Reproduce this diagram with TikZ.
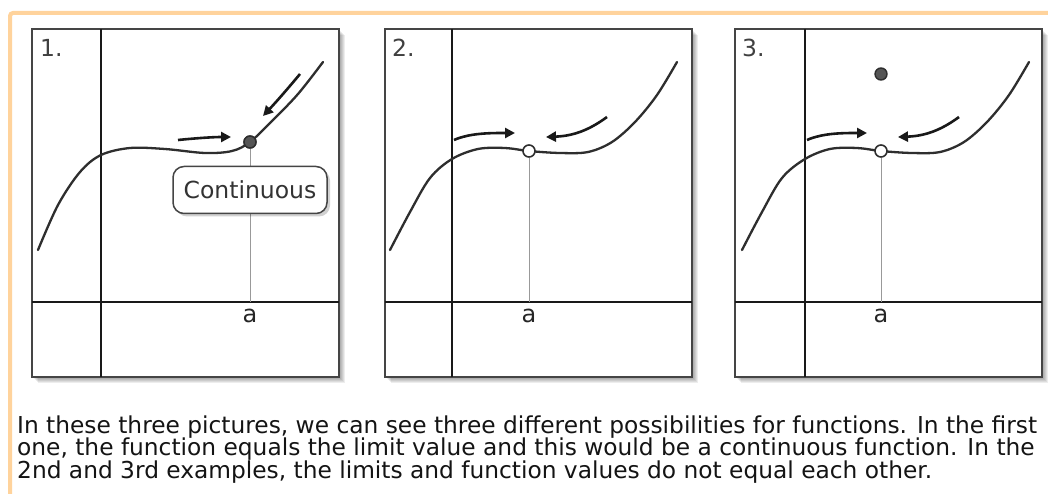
\documentclass[tikz,border=0pt]{standalone}
\usepackage{fontspec}
\setmainfont{DejaVu Sans}
\usetikzlibrary{arrows.meta}
\definecolor{frameorange}{HTML}{FFD39C}
\definecolor{ink}{HTML}{2E2E2E}
\definecolor{borderc}{HTML}{454545}
\definecolor{dotc}{HTML}{555555}
\newcommand\panelshadow[4]{%
  \foreach \d in {1,2,...,6}{%
    \fill[black,opacity=0.07] ({#1+\d},{#2+\d}) rectangle ({#3+\d},{#4+\d});}}
\tikzset{
  panelbox/.style={draw=borderc, line width=1.8pt, fill=white},
  axisline/.style={draw=black!90, line width=2.6pt},
  curveline/.style={draw=ink, line width=2.3pt, line cap=round},
  guide/.style={draw=black!40, line width=0.9pt},
  arr/.style={draw=black!90, line width=2.6pt, -{Triangle[length=10pt,width=10pt]}},
  filledpt/.style={circle, draw=ink, line width=1.4pt, fill=dotc, minimum size=12pt, inner sep=0pt},
  openpt/.style={circle, draw=ink, line width=1.6pt, fill=white, minimum size=12pt, inner sep=0pt},
  numlbl/.style={text=black!75, font=\fontsize{23.5}{24}\selectfont, anchor=west, inner sep=0pt},
  alabel/.style={text=black!85, font=\fontsize{24}{24}\selectfont, inner sep=0pt},
  bodytext/.style={text=black!92, font=\fontsize{23.3}{26}\selectfont, anchor=base west, inner sep=0pt},
}
\begin{document}
\begin{tikzpicture}[x=1pt,y=-1pt]
\useasboundingbox (0,0) rectangle (1048,494);
\fill[white] (0,0) rectangle (1048,494);
% orange frame
\draw[frameorange, line width=4pt, rounded corners=3pt] (10,494) -- (10,13) -- (1050,13);

% ---------- Panel 1 ----------
\panelshadow{32}{29}{339}{377}
\draw[panelbox] (32,29) rectangle (339,377);
\begin{scope}
\clip (32,29) rectangle (339,377);
\draw[axisline] (101,29) -- (101,377);
\draw[axisline] (32,302) -- (339,302);
\end{scope}
\node[numlbl] (n1) at (40,48) {1.};
\node[filledpt] (p1) at (250,142) {};
\coordinate (b1) at (250,302);
\draw[guide] (p1) -- (b1);
\draw[curveline] plot[smooth, tension=0.55] coordinates {(38,250) (58,205) (80,172) (101,155) (130,148) (165,149) (205,153) (232,151) (250,142) (272,121) (298,94) (323,62)};
\node[filledpt] at (250,142) {};
\node[alabel] (a1) at (250,316) {a};
\node[draw=borderc, line width=1.5pt, rounded corners=11pt, fill=black, fill opacity=0.18, draw opacity=0, minimum width=154pt, minimum height=47pt] at (253,193) {};
\node[draw=borderc, line width=1.5pt, rounded corners=11pt, fill=white, minimum width=154pt, minimum height=47pt, text=black!80, font=\fontsize{23.5}{24}\selectfont, inner sep=0pt] (cont) at (250,190) {Continuous};
\draw[arr] (178,140) .. controls (198,138) and (214,137) .. (231,137);
\draw[arr] (300,74) .. controls (290,86) and (278,100) .. (263,116);

% ---------- Panel 2 ----------
\panelshadow{385}{29}{692}{377}
\draw[panelbox] (385,29) rectangle (692,377);
\begin{scope}
\clip (385,29) rectangle (692,377);
\draw[axisline] (452,29) -- (452,377);
\draw[axisline] (385,302) -- (692,302);
\end{scope}
\node[numlbl] (n2) at (392,48) {2.};
\coordinate (b2) at (529,302);
\draw[curveline] plot[smooth, tension=0.55] coordinates {(390,250) (410,212) (430,178) (452,159) (478,149) (505,148) (529,151) (560,153) (588,152) (612,142) (635,122) (657,95) (677,62)};
\node[openpt] (p2) at (529,151) {};
\draw[guide] (p2) -- (b2);
\node[alabel] (a2) at (529,316) {a};
\draw[arr] (454,140) .. controls (470,133) and (490,133) .. (515,133);
\draw[arr] (607,117) .. controls (588,131) and (572,136) .. (546,137);

% ---------- Panel 3 ----------
\panelshadow{735}{29}{1042}{377}
\draw[panelbox] (735,29) rectangle (1042,377);
\begin{scope}
\clip (735,29) rectangle (1042,377);
\draw[axisline] (805,29) -- (805,377);
\draw[axisline] (735,302) -- (1042,302);
\end{scope}
\node[numlbl] (n3) at (742,48) {3.};
\coordinate (b3) at (881,302);
\draw[curveline] plot[smooth, tension=0.55] coordinates {(742,250) (762,212) (782,178) (805,159) (830,149) (857,148) (881,151) (912,153) (940,152) (964,142) (987,122) (1009,95) (1029,62)};
\node[openpt] (p3) at (881,151) {};
\draw[guide] (p3) -- (b3);
\node[filledpt] (q3) at (881,74) {};
\node[alabel] (a3) at (881,316) {a};
\draw[arr] (807,140) .. controls (823,133) and (843,133) .. (867,133);
\draw[arr] (959,117) .. controls (940,131) and (924,136) .. (898,137);

% ---------- Caption ----------
\node[bodytext] (t1) at (17,433) {In these three pictures, we can see three different possibilities for functions. In the first};
\node[bodytext] (t2) at (17,455.5) {one, the function equals the limit value and this would be a continuous function. In the};
\node[bodytext] (t3) at (17,478) {2nd and 3rd examples, the limits and function values do not equal each other.};
\end{tikzpicture}
\end{document}
